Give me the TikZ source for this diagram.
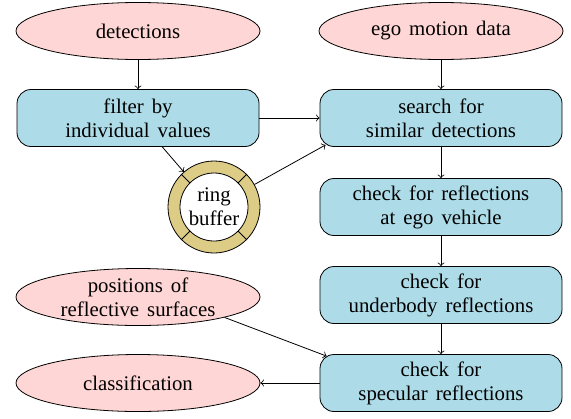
\documentclass[tikz,border=0pt]{standalone}
\usepackage{fontspec}
\setmainfont{Liberation Serif}
\usetikzlibrary{shapes.geometric,calc}
\definecolor{srcpink}{RGB}{255,214,214}
\definecolor{procblue}{RGB}{173,220,232}
\definecolor{ringtan}{RGB}{221,204,134}
\newcommand{\labelfont}{\fontsize{10.4}{12}\selectfont\spaceskip=4pt plus 1pt minus 0.5pt\relax}

\begin{document}
\begin{tikzpicture}[x=0.5pt,y=-0.5pt,
  every node/.style={font=\labelfont},
  source/.style={ellipse,draw,fill=srcpink,minimum width=122pt,minimum height=28.5pt,inner sep=0pt,align=center},
  process/.style={rectangle,rounded corners=7pt,draw,fill=procblue,minimum width=121pt,minimum height=28.5pt,inner sep=2pt,align=center},
  flow/.style={->}]
\useasboundingbox (0,0) rectangle (571,418);

% inputs
\node[source] (det) at (138,31) {detections};
\node[source] (ego) at (441,31) {ego motion data};
\node[source] (pos) at (138,297) {positions of\\reflective surfaces};
\node[source] (cls) at (138,383) {classification};

% processing steps
\node[process] (filter) at (138,118) {filter by\\individual values};
\node[process] (search) at (441,118) {search for\\similar detections};
\node[process] (egochk) at (441,207) {check for reflections\\at ego vehicle};
\node[process] (under) at (441,295) {check for\\underbody reflections};
\node[process] (spec) at (441,383) {check for\\specular reflections};

% ring buffer
\node[circle,draw,fill=ringtan,minimum size=46pt,inner sep=0pt] (ring) at (214,207) {};
\draw[fill=white] (ring.center) circle[radius=17pt];
\foreach \a in {45,135,225,315}
  \draw ($(ring.center)+(\a:17pt)$) -- (ring.\a);
\node[align=center,inner sep=0pt] (ringtxt) at (ring.center) {ring\\buffer};

% connections
\coordinate (fout) at ($(filter.south)!0.2!(filter.south east)$);
\coordinate (sin) at ($(search.south west)+(6,-2)$);
\coordinate (spin) at ($(spec.north west)+(7,2)$);
\draw[flow] (det) -- (filter);
\draw[flow] (ego) -- (search);
\draw[flow] (filter.east) -- (search.west);
\draw[flow] (fout) -- (ring);
\draw[flow] (ring) -- (sin);
\draw[flow] (search) -- (egochk);
\draw[flow] (egochk) -- (under);
\draw[flow] (under) -- (spec);
\draw[flow] (pos.south east) -- (spin);
\draw[flow] (spec.west) -- (cls.east);
\end{tikzpicture}
\end{document}
